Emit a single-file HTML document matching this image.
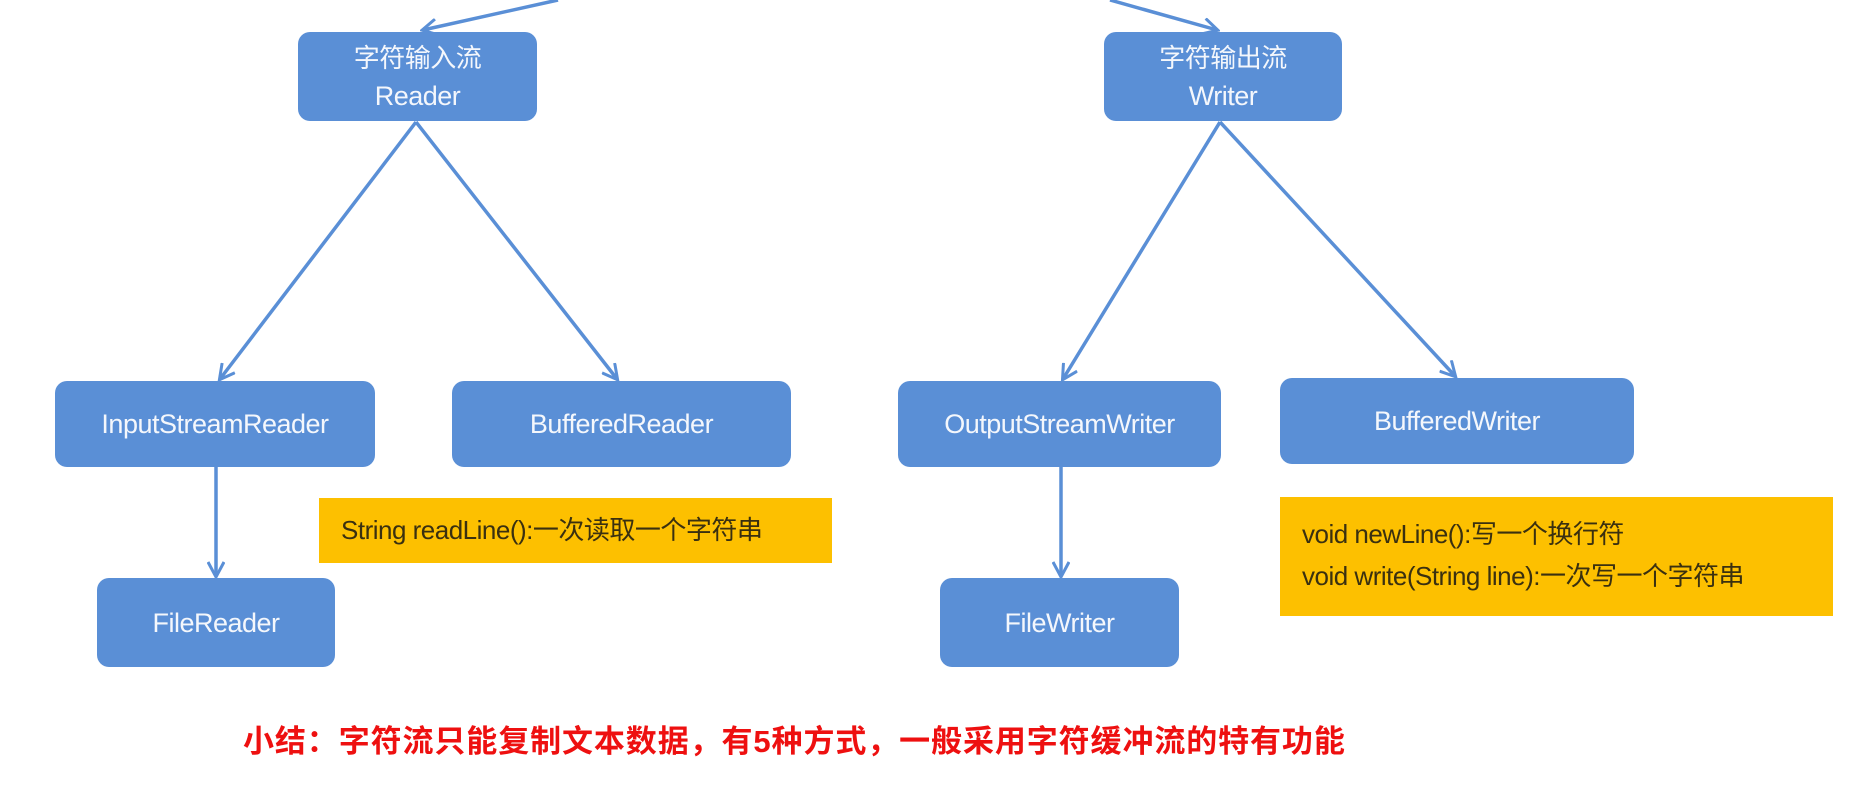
<!DOCTYPE html>
<html><head><meta charset="utf-8"><style>
html,body{margin:0;padding:0;background:#fff;}
body{width:1862px;height:790px;overflow:hidden;position:relative;font-family:"Liberation Sans","Noto Sans CJK SC",sans-serif;}
.b{position:absolute;background:#5a8fd6;border-radius:12px;color:#f4f7fc;font-size:27px;display:flex;flex-direction:column;align-items:center;justify-content:center;line-height:38px;letter-spacing:-0.5px;}
.y{position:absolute;background:#fdc000;color:#3a3010;font-size:26px;box-sizing:border-box;padding-left:22px;letter-spacing:-0.5px;white-space:nowrap;}
.r{position:absolute;color:#ee1010;font-weight:bold;font-size:31px;white-space:nowrap;letter-spacing:0.9px;}
svg{position:absolute;left:0;top:0;}
</style></head><body>
<svg width="1862" height="790">
<defs><marker id="a" markerWidth="18" markerHeight="18" refX="15" refY="9" orient="auto" markerUnits="userSpaceOnUse" viewBox="0 0 18 18"><path d="M1,1 L16,9 L1,17" fill="none" stroke="#5a8fd6" stroke-width="3"/></marker></defs>
<g stroke="#5a8fd6" stroke-width="3.5" fill="none">
<line x1="558" y1="0" x2="423" y2="30" marker-end="url(#a)"/>
<line x1="1110" y1="0" x2="1217" y2="30" marker-end="url(#a)"/>
<line x1="416" y1="122" x2="220" y2="379" marker-end="url(#a)"/>
<line x1="416" y1="122" x2="617" y2="379" marker-end="url(#a)"/>
<line x1="1220" y1="122" x2="1063" y2="379" marker-end="url(#a)"/>
<line x1="1220" y1="122" x2="1455" y2="376" marker-end="url(#a)"/>
<line x1="216" y1="467" x2="216" y2="576" marker-end="url(#a)"/>
<line x1="1061" y1="467" x2="1061" y2="576" marker-end="url(#a)"/>
</g></svg>
<div class="b" style="left:298px;top:32px;width:239px;height:89px;font-size:26px"><div>字符输入流</div><div style="font-size:27px">Reader</div></div>
<div class="b" style="left:1104px;top:32px;width:238px;height:89px;font-size:26px"><div>字符输出流</div><div style="font-size:27px">Writer</div></div>
<div class="b" style="left:55px;top:381px;width:320px;height:86px">InputStreamReader</div>
<div class="b" style="left:452px;top:381px;width:339px;height:86px">BufferedReader</div>
<div class="b" style="left:898px;top:381px;width:323px;height:86px">OutputStreamWriter</div>
<div class="b" style="left:1280px;top:378px;width:354px;height:86px">BufferedWriter</div>
<div class="b" style="left:97px;top:578px;width:238px;height:89px">FileReader</div>
<div class="b" style="left:940px;top:578px;width:239px;height:89px">FileWriter</div>
<div class="y" style="left:319px;top:498px;width:513px;height:65px;line-height:65px">String readLine():一次读取一个字符串</div>
<div class="y" style="left:1280px;top:497px;width:553px;height:119px;padding-top:16px;line-height:42px">void newLine():写一个换行符<br>void write(String line):一次写一个字符串</div>
<div class="r" style="left:243px;top:716px">小结：字符流只能复制文本数据，有5种方式，一般采用字符缓冲流的特有功能</div>
</body></html>
